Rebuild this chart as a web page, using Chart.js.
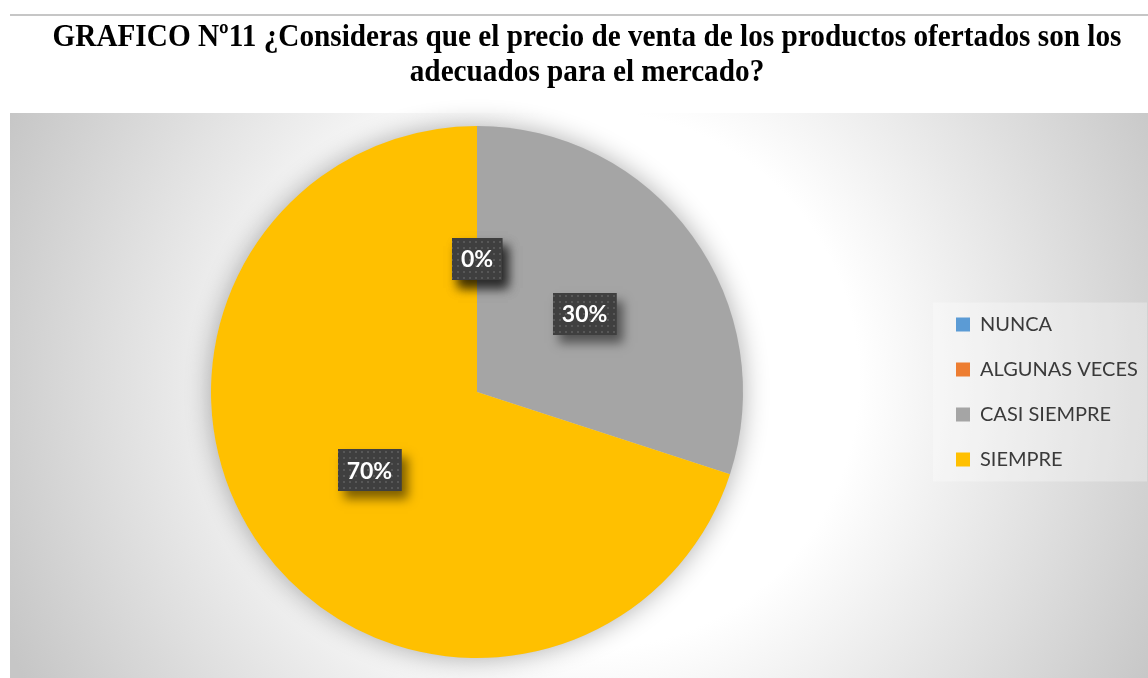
<!DOCTYPE html>
<html>
<head>
<meta charset="utf-8">
<script src="https://cdn.jsdelivr.net/npm/chart.js@4.4.1/dist/chart.umd.min.js"></script>
<style>
  html, body { margin: 0; padding: 0; background: #ffffff; }
  #wrap { width: 1148px; height: 678px; }
  canvas { display: block; }
</style>
</head>
<body>
<div id="wrap"><canvas id="chart" width="1148" height="678"></canvas></div>
<script>
// Survey question and answers
const titleLines = [
  'GRAFICO Nº11 ¿Consideras que el precio de venta de los productos ofertados son los',
  'adecuados para el mercado?'
];
const categories = ['NUNCA', 'ALGUNAS VECES', 'CASI SIEMPRE', 'SIEMPRE'];
const responses = [0, 0, 30, 70];
const sliceColors = ['#5B9BD5', '#ED7D31', '#A5A5A5', '#FFC000'];

// Small dotted texture for the percentage tags
function makeDotPattern(ctx) {
  const tile = document.createElement('canvas');
  tile.width = 6; tile.height = 6;
  const t = tile.getContext('2d');
  t.fillStyle = '#3f3f3f';
  t.fillRect(0, 0, 6, 6);
  t.fillStyle = '#575757';
  t.fillRect(1, 1, 2, 2);
  return ctx.createPattern(tile, 'repeat');
}

// Page frame, shaded plot backdrop, legend panel and the two-line heading
const backdrop = {
  id: 'backdrop',
  beforeLayout(chart) {
    const lg = chart.legend;
    if (lg && !lg._fixedWidth) {
      const fit = lg.fit;
      lg.fit = function () { fit.call(this); this.width = 217; };
      lg._fixedWidth = true;
    }
  },
  beforeDraw(chart) {
    const ctx = chart.ctx;
    const W = chart.width, H = chart.height;
    ctx.save();
    ctx.fillStyle = '#ffffff';
    ctx.fillRect(0, 0, W, H);
    ctx.fillStyle = '#c6c6c6';
    ctx.fillRect(10, 14, W - 10, 2);

    const g = ctx.createRadialGradient(590, 380, 0, 590, 380, 640);
    g.addColorStop(0, '#ffffff');
    g.addColorStop(0.42, '#ffffff');
    g.addColorStop(1, '#c6c6c6');
    ctx.fillStyle = g;
    ctx.fillRect(10, 113, W - 10, H - 113);

    const lg = chart.legend;
    if (lg && lg.legendHitBoxes && lg.legendHitBoxes.length) {
      const hb = lg.legendHitBoxes;
      const top = hb[0].top - 12;
      const last = hb[hb.length - 1];
      const bottom = last.top + last.height + 12;
      ctx.fillStyle = 'rgba(255,255,255,0.3)';
      ctx.fillRect(lg.left + 2, top, lg.right - lg.left - 3, bottom - top);
    }

    // heading: condensed bold serif, centred over the frame
    ctx.fillStyle = '#000000';
    ctx.font = 'bold 32px "Liberation Serif", "Times New Roman", serif';
    ctx.textAlign = 'center';
    ctx.textBaseline = 'alphabetic';
    const sx = 1069 / ctx.measureText(titleLines[0]).width;
    ctx.translate(587, 0);
    ctx.scale(sx, 1);
    ctx.fillText(titleLines[0], 0, 46);
    ctx.fillText(titleLines[1], 0, 81);
    ctx.restore();
  },
  beforeDatasetsDraw(chart) {
    // soft halo under the whole pie
    const arc = chart.getDatasetMeta(0).data[0];
    if (!arc) return;
    const ctx = chart.ctx;
    ctx.save();
    ctx.shadowColor = 'rgba(0,0,0,0.32)';
    ctx.shadowBlur = 26;
    ctx.fillStyle = '#d0d0d0';
    ctx.beginPath();
    ctx.arc(arc.x, arc.y, arc.outerRadius, 0, Math.PI * 2);
    ctx.fill();
    ctx.restore();
  }
};

// Percentage tags placed at the middle of each slice
const percentTags = {
  id: 'percentTags',
  afterDatasetsDraw(chart) {
    const ctx = chart.ctx;
    const meta = chart.getDatasetMeta(0);
    const values = chart.data.datasets[0].data;
    const total = values.reduce((a, b) => a + b, 0);
    const pattern = makeDotPattern(ctx);
    ctx.save();
    ctx.font = 'bold 23px Lato, "Open Sans", sans-serif';
    meta.data.forEach((arc, i) => {
      const p = arc.tooltipPosition();
      const txt = Math.round(values[i] / total * 100) + '%';
      const w = ctx.measureText(txt).width + 18;
      const h = 42;
      const x = Math.round(p.x - w / 2), y = Math.round(p.y - h / 2);
      ctx.save();
      ctx.shadowColor = 'rgba(0,0,0,0.5)';
      ctx.shadowBlur = 10;
      ctx.shadowOffsetX = 6;
      ctx.shadowOffsetY = 8;
      ctx.fillStyle = '#404040';
      ctx.fillRect(x, y, w, h);
      ctx.restore();
      ctx.fillStyle = pattern;
      ctx.fillRect(x, y, w, h);
      ctx.fillStyle = '#ffffff';
      ctx.textAlign = 'center';
      ctx.textBaseline = 'middle';
      ctx.fillText(txt, p.x, p.y + 1);
    });
    ctx.restore();
  }
};

new Chart(document.getElementById('chart'), {
  type: 'pie',
  data: {
    labels: categories,
    datasets: [{
      data: responses,
      backgroundColor: sliceColors,
      borderWidth: 0,
      hoverOffset: 0,
      offset: 0
    }]
  },
  options: {
    responsive: false,
    animation: false,
    events: [],
    layout: { padding: { top: 126, bottom: 20, left: 23, right: 0 } },
    plugins: {
      title: { display: false },
      tooltip: { enabled: false },
      legend: {
        display: true,
        position: 'right',
        align: 'center',
        labels: {
          boxWidth: 14,
          boxHeight: 14,
          padding: 25,
          color: '#3a3a3a',
          font: { family: 'Lato, "Open Sans", sans-serif', size: 20 }
        }
      }
    }
  },
  plugins: [backdrop, percentTags]
});
</script>
</body>
</html>
